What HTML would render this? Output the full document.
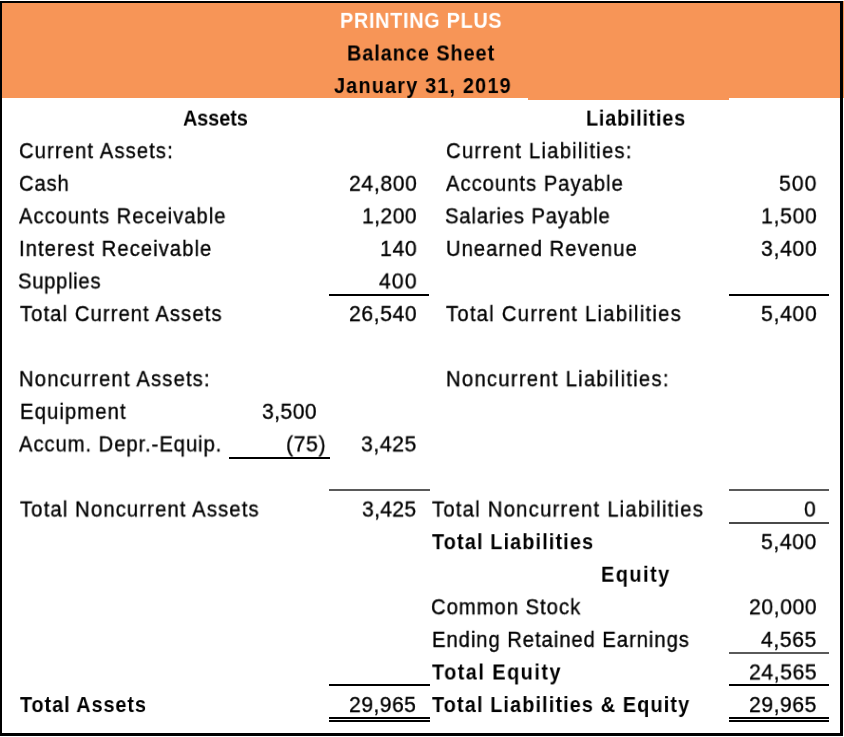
<!DOCTYPE html>
<html lang="en"><head><meta charset="utf-8"><title>Printing Plus Balance Sheet</title>
<style>
html,body{margin:0;padding:0;background:#fff;}
body{width:844px;height:737px;position:relative;overflow:hidden;font-family:"Liberation Sans",sans-serif;}
.t{position:absolute;white-space:nowrap;line-height:24px;font-size:21.3px;color:#000;transform-origin:0 0;will-change:transform;-webkit-text-stroke:0.35px currentColor;}
.b{font-weight:bold;font-size:22.0px;-webkit-text-stroke-width:0.0px;}
.n{font-size:22.8px;}
.ln{position:absolute;}
.band{position:absolute;background:#F79557;}
.bd{position:absolute;background:#000;}
</style></head><body>
<div class="band" style="left:0;top:0;width:844px;height:97.5px"></div>
<div class="band" style="left:528px;top:90px;width:200.8px;height:9.6px"></div>
<div class="bd" style="left:0;top:1px;width:843px;height:2px"></div>
<div class="bd" style="left:0;top:1px;width:2px;height:735px"></div>
<div class="bd" style="left:840.3px;top:1px;width:2.7px;height:735px"></div>
<div class="bd" style="left:0;top:732.8px;width:843px;height:3.2px"></div>
<div style="position:absolute;left:0;top:0;width:844px;height:1px;background:#fff"></div>
<div class="ln" style="left:328.60px;top:293.70px;width:100.60px;height:2.20px;background:#000"></div>
<div class="ln" style="left:728.80px;top:293.90px;width:100.20px;height:2.00px;background:#000"></div>
<div class="ln" style="left:229.00px;top:456.70px;width:100.50px;height:2.00px;background:#000"></div>
<div class="ln" style="left:328.80px;top:489.40px;width:101.20px;height:1.40px;background:#5a5a5a"></div>
<div class="ln" style="left:729.00px;top:489.40px;width:100.00px;height:1.40px;background:#5a5a5a"></div>
<div class="ln" style="left:729.00px;top:522.20px;width:100.00px;height:1.40px;background:#4a4a4a"></div>
<div class="ln" style="left:729.00px;top:652.20px;width:100.00px;height:1.40px;background:#5a5a5a"></div>
<div class="ln" style="left:328.80px;top:683.90px;width:101.20px;height:2.20px;background:#000"></div>
<div class="ln" style="left:729.00px;top:684.20px;width:100.00px;height:2.20px;background:#000"></div>
<div class="ln" style="left:328.80px;top:717.05px;width:101.20px;height:1.70px;background:#000"></div>
<div class="ln" style="left:328.80px;top:720.05px;width:101.20px;height:1.70px;background:#000"></div>
<div class="ln" style="left:729.00px;top:717.15px;width:100.00px;height:1.70px;background:#000"></div>
<div class="ln" style="left:729.00px;top:720.05px;width:100.00px;height:1.70px;background:#000"></div>
<span id="i0" class="t b" style="left:339.91px;top:8px;letter-spacing:0.803px;transform:translate3d(0,0.86px,0) scaleX(0.9);color:#fff;">PRINTING PLUS</span>
<span id="i1" class="t b" style="left:347.41px;top:41px;letter-spacing:1.090px;transform:translate3d(0,0.44px,0) scaleX(0.9);">Balance Sheet</span>
<span id="i2" class="t b" style="left:334.22px;top:74px;letter-spacing:1.339px;transform:translate3d(0,0.02px,0) scaleX(0.9);">January 31, 2019</span>
<span id="i3" class="t b" style="left:183.05px;top:106px;letter-spacing:-0.027px;transform:translate3d(0,0.60px,0) scaleX(0.9);">Assets</span>
<span id="i4" class="t b" style="left:586.05px;top:106px;letter-spacing:0.866px;transform:translate3d(0,0.60px,0) scaleX(0.9);">Liabilities</span>
<span id="i5" class="t" style="left:19.05px;top:139px;letter-spacing:1.159px;transform:translate3d(0,0.18px,0) scaleX(0.95);">Current Assets:</span>
<span id="i6" class="t" style="left:445.79px;top:139px;letter-spacing:1.301px;transform:translate3d(0,0.18px,0) scaleX(0.95);">Current Liabilities:</span>
<span id="i7" class="t" style="left:18.74px;top:171px;letter-spacing:0.909px;transform:translate3d(0,0.76px,0) scaleX(0.95);">Cash</span>
<span id="i8" class="t n" style="left:348.78px;top:170px;letter-spacing:0.650px;transform:translate3d(0,0.76px,0) scaleX(0.93);">24,800</span>
<span id="i9" class="t" style="left:446.38px;top:171px;letter-spacing:1.040px;transform:translate3d(0,0.76px,0) scaleX(0.95);">Accounts Payable</span>
<span id="i10" class="t n" style="left:779.13px;top:170px;letter-spacing:1.036px;transform:translate3d(0,0.76px,0) scaleX(0.93);">500</span>
<span id="i11" class="t" style="left:19.47px;top:204px;letter-spacing:1.026px;transform:translate3d(0,0.34px,0) scaleX(0.95);">Accounts Receivable</span>
<span id="i12" class="t n" style="left:361.66px;top:203px;letter-spacing:0.428px;transform:translate3d(0,0.34px,0) scaleX(0.93);">1,200</span>
<span id="i13" class="t" style="left:445.45px;top:204px;letter-spacing:0.904px;transform:translate3d(0,0.34px,0) scaleX(0.95);">Salaries Payable</span>
<span id="i14" class="t n" style="left:761.20px;top:203px;letter-spacing:0.740px;transform:translate3d(0,0.34px,0) scaleX(0.93);">1,500</span>
<span id="i15" class="t" style="left:18.65px;top:236px;letter-spacing:1.116px;transform:translate3d(0,0.92px,0) scaleX(0.95);">Interest Receivable</span>
<span id="i16" class="t n" style="left:380.00px;top:235px;letter-spacing:0.751px;transform:translate3d(0,0.92px,0) scaleX(0.93);">140</span>
<span id="i17" class="t" style="left:446.32px;top:236px;letter-spacing:1.069px;transform:translate3d(0,0.92px,0) scaleX(0.95);">Unearned Revenue</span>
<span id="i18" class="t n" style="left:760.86px;top:235px;letter-spacing:0.717px;transform:translate3d(0,0.92px,0) scaleX(0.93);">3,400</span>
<span id="i19" class="t" style="left:18.07px;top:269px;letter-spacing:0.726px;transform:translate3d(0,0.50px,0) scaleX(0.95);">Supplies</span>
<span id="i20" class="t n" style="left:378.86px;top:268px;letter-spacing:1.171px;transform:translate3d(0,0.50px,0) scaleX(0.93);">400</span>
<span id="i21" class="t" style="left:19.51px;top:302px;letter-spacing:1.132px;transform:translate3d(0,0.08px,0) scaleX(0.95);">Total Current Assets</span>
<span id="i22" class="t n" style="left:348.68px;top:301px;letter-spacing:0.611px;transform:translate3d(0,0.08px,0) scaleX(0.93);">26,540</span>
<span id="i23" class="t" style="left:445.94px;top:302px;letter-spacing:1.318px;transform:translate3d(0,0.08px,0) scaleX(0.95);">Total Current Liabilities</span>
<span id="i24" class="t n" style="left:760.85px;top:301px;letter-spacing:0.721px;transform:translate3d(0,0.08px,0) scaleX(0.93);">5,400</span>
<span id="i25" class="t" style="left:19.46px;top:367px;letter-spacing:1.217px;transform:translate3d(0,0.24px,0) scaleX(0.95);">Noncurrent Assets:</span>
<span id="i26" class="t" style="left:446.35px;top:367px;letter-spacing:1.333px;transform:translate3d(0,0.24px,0) scaleX(0.95);">Noncurrent Liabilities:</span>
<span id="i27" class="t" style="left:20.00px;top:399px;letter-spacing:1.178px;transform:translate3d(0,0.82px,0) scaleX(0.95);">Equipment</span>
<span id="i28" class="t n" style="left:261.60px;top:398px;letter-spacing:0.419px;transform:translate3d(0,0.82px,0) scaleX(0.93);">3,500</span>
<span id="i29" class="t" style="left:19.39px;top:432px;letter-spacing:0.979px;transform:translate3d(0,0.40px,0) scaleX(0.95);">Accum. Depr.-Equip.</span>
<span id="i30" class="t n" style="left:285.60px;top:431px;letter-spacing:0.644px;transform:translate3d(0,0.40px,0) scaleX(0.93);">(75)</span>
<span id="i31" class="t n" style="left:361.49px;top:431px;letter-spacing:0.591px;transform:translate3d(0,0.40px,0) scaleX(0.93);">3,425</span>
<span id="i32" class="t" style="left:19.85px;top:497px;letter-spacing:1.193px;transform:translate3d(0,0.56px,0) scaleX(0.95);">Total Noncurrent Assets</span>
<span id="i33" class="t n" style="left:361.58px;top:496px;letter-spacing:0.273px;transform:translate3d(0,0.56px,0) scaleX(0.93);">3,425</span>
<span id="i34" class="t" style="left:432.31px;top:497px;letter-spacing:1.307px;transform:translate3d(0,0.56px,0) scaleX(0.95);">Total Noncurrent Liabilities</span>
<span id="i35" class="t n" style="left:804.35px;top:496px;letter-spacing:0.000px;transform:translate3d(0,0.56px,0) scaleX(0.93);">0</span>
<span id="i36" class="t b" style="left:432.38px;top:530px;letter-spacing:1.279px;transform:translate3d(0,0.14px,0) scaleX(0.9);">Total Liabilities</span>
<span id="i37" class="t n" style="left:761.03px;top:529px;letter-spacing:0.616px;transform:translate3d(0,0.14px,0) scaleX(0.93);">5,400</span>
<span id="i38" class="t b" style="left:600.97px;top:562px;letter-spacing:1.720px;transform:translate3d(0,0.72px,0) scaleX(0.9);">Equity</span>
<span id="i39" class="t" style="left:431.30px;top:595px;letter-spacing:1.041px;transform:translate3d(0,0.30px,0) scaleX(0.95);">Common Stock</span>
<span id="i40" class="t n" style="left:748.78px;top:594px;letter-spacing:0.571px;transform:translate3d(0,0.30px,0) scaleX(0.93);">20,000</span>
<span id="i41" class="t" style="left:432.14px;top:627px;letter-spacing:0.998px;transform:translate3d(0,0.88px,0) scaleX(0.95);">Ending Retained Earnings</span>
<span id="i42" class="t n" style="left:761.21px;top:626px;letter-spacing:0.600px;transform:translate3d(0,0.88px,0) scaleX(0.93);">4,565</span>
<span id="i43" class="t b" style="left:432.43px;top:660px;letter-spacing:1.675px;transform:translate3d(0,0.46px,0) scaleX(0.9);">Total Equity</span>
<span id="i44" class="t n" style="left:748.76px;top:659px;letter-spacing:0.600px;transform:translate3d(0,0.46px,0) scaleX(0.93);">24,565</span>
<span id="i45" class="t b" style="left:19.95px;top:693px;letter-spacing:1.053px;transform:translate3d(0,0.04px,0) scaleX(0.9);">Total Assets</span>
<span id="i46" class="t n" style="left:348.68px;top:692px;letter-spacing:0.448px;transform:translate3d(0,0.04px,0) scaleX(0.93);">29,965</span>
<span id="i47" class="t b" style="left:432.38px;top:693px;letter-spacing:1.272px;transform:translate3d(0,0.04px,0) scaleX(0.9);">Total Liabilities &amp; Equity</span>
<span id="i48" class="t n" style="left:748.94px;top:692px;letter-spacing:0.561px;transform:translate3d(0,0.04px,0) scaleX(0.93);">29,965</span>
</body></html>
